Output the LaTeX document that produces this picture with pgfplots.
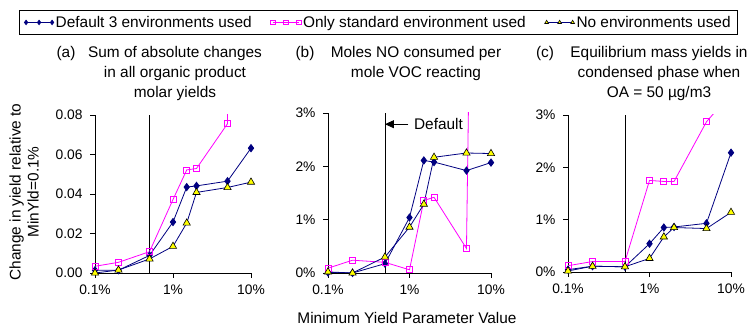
\documentclass[border=0pt]{standalone}
\usepackage{fontspec}
\setmainfont{Liberation Sans}
\usepackage{pgfplots}
\pgfplotsset{compat=1.18}
\usepackage{pgfplotstable}
\usetikzlibrary{arrows.meta}

\definecolor{navy}{RGB}{0,0,128}
\definecolor{mag}{RGB}{255,0,255}
\definecolor{yel}{RGB}{255,255,0}

% x = minimum yield parameter (%), columns: default / standard only / none
\pgfplotstableread{
x    def     std     non
0.1  0.0014  0.0034  0.0000
0.2  0.0014  0.0054  0.0015
0.5  0.0089  0.0108  0.0071
1    0.0258  0.0372  0.0135
1.5  0.0435  0.0522  0.0253
2    0.0441  0.0529  0.0408
5    0.0465  0.0756  0.0433
10   0.0632  2.0000  0.0460
}\tblA
\pgfplotstableread{
x    def    std    non
0.1  0.01   0.09   0.02
0.2  0.00   0.24   0.00
0.5  0.175  0.20   0.30
1    1.04   0.06   0.86
1.5  2.11   1.36   1.29
2    2.08   1.42   2.17
5    1.92   0.46   2.25
10   2.07   33.0   2.24
}\tblB
\pgfplotstableread{
x    def    std    non
0.1  0.045  0.12   0.02
0.2  0.11   0.20   0.11
0.5  0.10   0.20   0.10
1    0.54   1.75   0.26
1.5  0.85   1.73   0.67
2    0.86   1.73   0.85
5    0.93   2.87   0.83
10   2.28   3.41   1.14
}\tblC

\pgfplotsset{
  mypanel/.style={
    scale only axis, xmin=0.1, xmax=10,
    xtick={0.1,1,10}, xticklabels={0.1\%,1\%,10\%},
    xminorticks=false, yminorticks=false,
    axis x line*=bottom, axis y line*=left,
    axis line style={-, black, line width=0.8pt},
    major tick style={black, line width=0.8pt},
    major tick length=5pt, tick align=outside,
    tick label style={font=\fontsize{13.8}{16}\selectfont},
    xticklabel style={yshift=-3pt},
    yticklabel style={xshift=-4pt},
    scaled y ticks=false,
  },
  sdef/.style={navy, line width=0.8pt, mark=diamond*, mark size=3.6pt,
    mark options={fill=navy, draw=navy, solid}},
  sstd/.style={mag, line width=0.8pt, mark=square, mark size=3pt,
    mark options={fill=white, draw=mag, solid}},
  snon/.style={navy, line width=0.8pt, mark=triangle*, mark size=4.2pt,
    mark options={fill=yel, draw=black, line width=0.6pt, solid}},
}

\begin{document}
\begin{tikzpicture}[font=\fontsize{15.4}{18}\selectfont]
\path (0,0) rectangle (756pt,332pt);

% (a)
\begin{semilogxaxis}[mypanel, /pgf/number format/assume math mode=true,
  at={(95pt,59pt)}, anchor=south west,
  width=156pt, height=158pt, ymin=0, ymax=0.08,
  ytick={0,0.02,0.04,0.06,0.08},
  yticklabel style={/pgf/number format/fixed, /pgf/number format/precision=2,
    /pgf/number format/fixed zerofill}]
\addplot[black, line width=0.8pt, forget plot] coordinates {(0.5,0) (0.5,0.08)};
\addplot[sdef] table[x=x, y=def] {\tblA};
\addplot[sstd] table[x=x, y=std] {\tblA};
\addplot[snon] table[x=x, y=non] {\tblA};
\end{semilogxaxis}

% (b)
\begin{semilogxaxis}[mypanel, /pgf/number format/assume math mode=true,
  at={(328pt,59pt)}, anchor=south west,
  width=163pt, height=160pt, ymin=0, ymax=3,
  ytick={0,1,2,3}, yticklabels={0\%,1\%,2\%,3\%},
  legend columns=3,
  legend style={at={(rel axis cs:0.31,1.566)}, anchor=center,
    draw=black, line width=0.8pt, inner xsep=5pt, inner ysep=4pt,
    font=\fontsize{15.4}{18}\selectfont,
    /tikz/every even column/.append style={column sep=17pt}},
  legend image code/.code={\draw[#1, mark size=2.2pt]
    plot coordinates {(0pt,0pt) (13pt,0pt) (26pt,0pt)};}]
\addplot[black, line width=0.8pt, forget plot] coordinates {(0.5,0) (0.5,3)};
\addplot[sdef] table[x=x, y=def] {\tblB};
\addplot[sstd] table[x=x, y=std] {\tblB};
\addplot[snon] table[x=x, y=non] {\tblB};
\legend{Default 3 environments used, Only standard environment used, No environments used}
\draw[line width=0.8pt, -{Triangle[length=9pt,width=8pt]}] (axis cs:0.97,2.79) -- (axis cs:0.5,2.79);
\node[anchor=west, inner sep=1pt] at (axis cs:1.1,2.79) {Default};
\end{semilogxaxis}

% (c)
\begin{semilogxaxis}[mypanel, /pgf/number format/assume math mode=true,
  at={(568pt,60pt)}, anchor=south west,
  width=163pt, height=157pt, ymin=0, ymax=3,
  ytick={0,1,2,3}, yticklabels={0\%,1\%,2\%,3\%}]
\addplot[black, line width=0.8pt, forget plot] coordinates {(0.5,0) (0.5,3)};
\addplot[sdef] table[x=x, y=def] {\tblC};
\addplot[sstd] table[x=x, y=std] {\tblC};
\addplot[snon] table[x=x, y=non] {\tblC};
\end{semilogxaxis}

% panel titles
\node at (66pt,278pt) {(a)};
\node[align=center] at (175pt,258pt) {Sum of absolute changes\\[2pt]in all organic product\\[2pt]molar yields};
\node at (305pt,278pt) {(b)};
\node[align=center] at (416pt,268pt) {Moles NO consumed per\\[2pt]mole VOC reacting};
\node at (545pt,278pt) {(c)};
\node[align=center] at (659pt,258pt) {Equilibrium mass yields in\\[2pt]condensed phase when\\[2pt]OA = 50 µg/m3};

% axis titles
\node[rotate=90, align=center] at (24pt,140pt) {Change in yield relative to\\MinYld=0.1\%};
\node at (407pt,14pt) {Minimum Yield Parameter Value};
\end{tikzpicture}
\end{document}
